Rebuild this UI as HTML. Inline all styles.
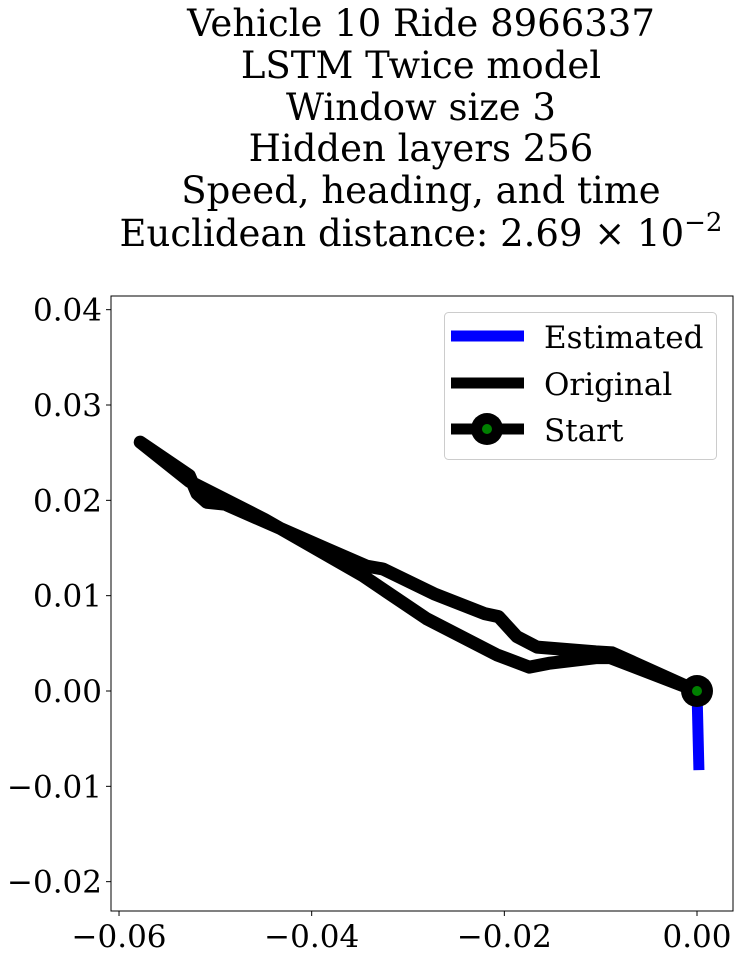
<!DOCTYPE html>
<html><head><meta charset="utf-8"><style>
body{margin:0;background:#fff;width:739px;height:958px;overflow:hidden}
text{font-family:"DejaVu Serif","Liberation Serif",serif;fill:#000}
</style></head><body>
<svg id="chart" width="739" height="958" xmlns="http://www.w3.org/2000/svg">
<g font-size="37" text-anchor="middle">
<text x="421" y="36">Vehicle 10 Ride 8966337</text>
<text x="421" y="78">LSTM Twice model</text>
<text x="421" y="120">Window size 3</text>
<text x="421" y="161">Hidden layers 256</text>
<text x="421" y="203">Speed, heading, and time</text>
<text x="421" y="246">Euclidean distance: 2.69 × 10<tspan font-size="26" dy="-15">−2</tspan></text>
</g>
<rect x="111" y="296" width="622" height="615" fill="none" stroke="#000" stroke-width="1"/>
<g id="xticks"></g>
<g id="yticks"></g>
<g id="series"></g>
<g>
<rect x="444.5" y="312.5" width="272" height="147" rx="4" fill="#fff" fill-opacity="0.8" stroke="#ccc"/>
<line x1="451" y1="336" x2="524" y2="336" stroke="#0000ff" stroke-width="11"/>
<text x="544" y="348" font-size="31">Estimated</text>
<line x1="451" y1="383" x2="524" y2="383" stroke="#000" stroke-width="11"/>
<text x="544" y="395" font-size="31">Original</text>
<line x1="451" y1="429" x2="524" y2="429" stroke="#000" stroke-width="11"/>
<circle cx="487" cy="429" r="16" fill="#000"/><circle cx="487" cy="429" r="5" fill="#008000"/>
<text x="544" y="441" font-size="31">Start</text>
</g>
</svg>
<script>
const xTicks=[-0.06,-0.04,-0.02,0.00];
const xTickLabels=["−0.06","−0.04","−0.02","0.00"];
const yTicks=[0.04,0.03,0.02,0.01,0.00,-0.01,-0.02];
const yTickLabels=["0.04","0.03","0.02","0.01","0.00","−0.01","−0.02"];
const origX=[0,-0.0088,-0.0105,-0.0166,-0.0187,-0.0206,-0.0220,-0.0273,-0.0326,-0.0343,-0.0384,-0.0445,-0.0490,-0.0509,-0.0519,-0.0527,-0.0578,-0.0527,-0.0449,-0.0347,-0.0281,-0.0208,-0.0174,-0.0154,-0.0105,-0.0090,0];
const origY=[0,0.0040,0.0041,0.0046,0.0057,0.0078,0.0081,0.0102,0.0128,0.0131,0.0149,0.0176,0.0196,0.0198,0.0207,0.0226,0.0261,0.0220,0.0180,0.0121,0.0076,0.0038,0.0025,0.0029,0.0035,0.0035,0];
const estX=[0,0.0002];
const estY=[0,-0.0083];
const startX=[0], startY=[0];
const sx=v=>697+(v-0)*9633;
const sy=v=>691-(v-0)*9533;
const NS="http://www.w3.org/2000/svg";
function mk(t,a,p){const e=document.createElementNS(NS,t);for(const k in a)e.setAttribute(k,a[k]);p.appendChild(e);return e;}
const xg=document.getElementById('xticks'),yg=document.getElementById('yticks'),sg=document.getElementById('series');
xTicks.forEach((v,i)=>{const x=sx(v);
 const l=mk('line',{x1:x,x2:x,y1:911,y2:916,stroke:'#000'},xg);
 
 
 const t=mk('text',{x:x,y:947,'font-size':31,'text-anchor':'middle'},xg);t.textContent=xTickLabels[i];
 
 });
yTicks.forEach((v,i)=>{const y=sy(v);
 const l=mk('line',{x1:106,x2:111,y1:y,y2:y,stroke:'#000'},yg);
 
 
 const t=mk('text',{x:102,y:y+11,'font-size':31,'text-anchor':'end'},yg);t.textContent=yTickLabels[i];
 
 });
const pts=(X,Y)=>X.map((v,i)=>sx(v)+','+sy(Y[i])).join(' ');
const est=mk('polyline',{points:pts(estX,estY),fill:'none',stroke:'#0000ff','stroke-width':11},sg);


const org=mk('polyline',{points:pts(origX,origY),fill:'none',stroke:'#000','stroke-width':13,'stroke-linejoin':'round','stroke-linecap':'round'},sg);


const c=mk('circle',{cx:sx(startX[0]),cy:sy(startY[0]),r:16,fill:'#000'},sg);


mk('circle',{cx:sx(startX[0]),cy:sy(startY[0]),r:5,fill:'#008000'},sg);
</script>
</body></html>
